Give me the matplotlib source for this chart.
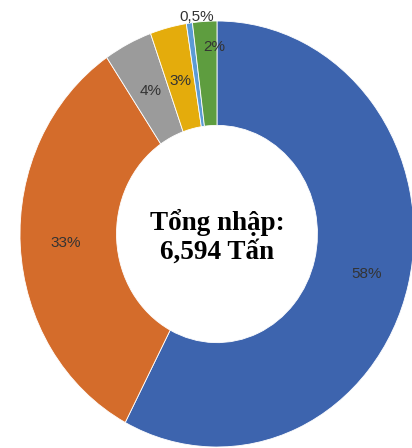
import numpy as np
import matplotlib
matplotlib.use("Agg")
import matplotlib.pyplot as plt

# share of imports (%), clockwise from 12 o'clock
values = [58, 33, 4, 3, 0.5, 2]
labels = ["58%", "33%", "4%", "3%", "0,5%", "2%"]
colors = ["#3D64AE", "#D46C2B", "#9B9B9B", "#E4AC0C", "#5B9BD5", "#5E9D3F"]
center_text = "Tổng nhập:\n6,594 Tấn"

# radius (in outer-radius units) where each label sits
label_r = [0.78, 0.77, 0.75, 0.74, 1.03, 0.88]


def main():
    fig = plt.figure(figsize=(4.12, 4.48), dpi=100)
    ax = fig.add_axes([0, 0, 1, 1])

    wedges, _ = ax.pie(values, colors=colors, startangle=90, counterclock=False,
                       radius=1.0,
                       wedgeprops=dict(width=0.49, edgecolor="white", linewidth=0.6))

    # image is slightly stretched vertically, so let the axes be non-equal
    ax.set_aspect("auto")
    ax.set_xlim(-1.1015, 0.990)
    ax.set_ylim(-1.0047, 1.0986)
    ax.axis("off")

    for w, lab, r in zip(wedges, labels, label_r):
        ang = np.deg2rad((w.theta1 + w.theta2) / 2)
        x, y = r * np.cos(ang), r * np.sin(ang)
        if lab in ("2%", "0,5%"):
            x += 0.04
        ax.text(x, y, lab, ha="center", va="center", fontsize=11,
                color="#333333", family="Liberation Sans")

    ax.text(0, -0.015, center_text, ha="center", va="center", fontsize=19.5,
            fontweight="bold", family="Liberation Serif", color="black",
            linespacing=1.2)

    fig.savefig("out.png", dpi=100, facecolor="white")


if __name__ == "__main__":
    main()
